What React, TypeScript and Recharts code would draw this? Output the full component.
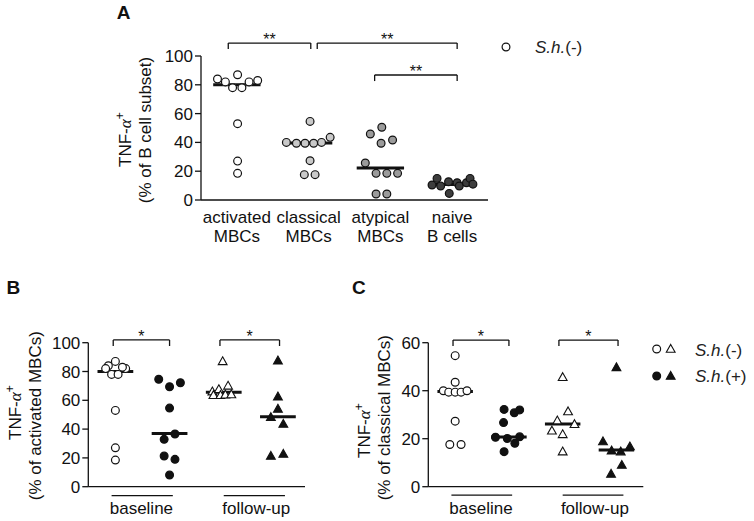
import { Legend, ReferenceLine, Scatter, ScatterChart, XAxis, YAxis } from "recharts";

const FONT = "'Liberation Sans', Arial, Helvetica, sans-serif";
const INK = "#111";

// ---- panel A: TNF-a+ per B cell subset (S.h.(-) donors)
const subsetLabels = [["activated", "MBCs"], ["classical", "MBCs"], ["atypical", "MBCs"], ["naive", "B cells"]];
const subsetFills = ["#ffffff", "#c9c9c9", "#9b9b9b", "#3d3d3d"];
const activatedVals = [84, 82, 78, 87, 78, 82, 83, 53, 27, 18.5];
const activatedJitterA = [-0.27, -0.16, -0.06, 0.01, 0.07, 0.17, 0.29, 0.01, 0.01, 0.01];
const classicalVals = [54.6, 40, 39.4, 39.4, 39.4, 40, 43.5, 27.3, 17.6, 17.6];
const classicalJitterA = [0.02, -0.31, -0.17, -0.05, 0.07, 0.18, 0.3, 0.02, -0.06, 0.09];
const atypicalVals = [50.5, 45.8, 39.4, 41.7, 25.7, 18.5, 18.5, 18.5, 4.2, 4.2];
const atypicalJitterA = [0.02, -0.14, 0.01, 0.17, -0.21, -0.06, 0.09, 0.24, -0.06, 0.09];
const naiveVals = [10.4, 15, 9.7, 12.7, 4.6, 12, 9.7, 12, 15, 11];
const naiveJitterA = [-0.28, -0.21, -0.16, -0.05, -0.04, 0.07, 0.1, 0.2, 0.25, 0.29];
const subsetMedians = [80, 39.5, 22.3, 10.8];
const bracketsA = [
  { from: -0.12, to: 1.03, top: 109, foot: 104.9, mark: "**" },
  { from: 1.12, to: 3.07, top: 109, foot: 104.9, mark: "**" },
  { from: 1.92, to: 3.07, top: 86.8, foot: 82.6, mark: "**" },
];

// ---- panels B/C: baseline vs follow-up, S.h.(-) / S.h.(+)
const groupLabels = ["baseline", "follow-up"];
const groupTicks = [0.48, 2.6];

const activatedJitterB = [-0.13, -0.18, -0.07, 0, 0.05, 0.19, 0.13, 0, 0, 0];
const actBasePosVals = [74.6, 69.4, 72.2, 54.6, 36.6, 32.9, 21.3, 19, 8.1];
const actBasePosJitter = [-0.2, 0, 0.2, 0, 0.1, -0.1, -0.1, 0.1, 0];
const actFollowNegVals = [87, 66, 67.6, 70, 63.5, 63.5, 63.8, 64];
const actFollowNegJitter = [-0.02, -0.21, -0.09, 0.08, -0.19, -0.06, 0.03, 0.14];
const actFollowPosVals = [87.5, 62.5, 54, 48.2, 43.5, 21.3, 22.7];
const actFollowPosJitter = [0, 0, 0, -0.13, 0.1, -0.13, 0.1];
const activatedMedians = [80, 37, 65.6, 48.6];
const bracketsB = [
  { from: -0.04, to: 1.0, top: 101.9, foot: 97.7, mark: "*" },
  { from: 1.93, to: 3.03, top: 101.9, foot: 97.7, mark: "*" },
];

const classicalJitterC = [0, -0.22, -0.12, 0, 0.11, 0.22, 0, 0, -0.1, 0.11];
const clsBasePosVals = [32.2, 30.8, 32, 26.7, 20.6, 20.1, 18.1, 20.8, 14.6];
const clsBasePosJitter = [-0.09, 0.1, 0.2, -0.1, -0.25, -0.03, 0.11, 0.2, -0.09];
const clsFollowNegVals = [45.6, 31.3, 27.5, 26, 23.3, 21.8, 14.6];
const clsFollowNegJitter = [0, 0.1, -0.1, 0.22, -0.2, 0, 0];
const clsFollowPosVals = [49.7, 18.8, 15, 14.6, 16.7, 9, 5.3];
const clsFollowPosJitter = [0, -0.25, -0.09, 0.08, 0.25, 0.1, -0.1];
const classicalMedians = [39.7, 20.7, 26.1, 15.3];
const bracketsC = [
  { from: -0.04, to: 1.0, top: 61.1, foot: 58.6, mark: "*" },
  { from: 1.93, to: 3.03, top: 61.1, foot: 58.6, mark: "*" },
];

const pts = (cat: number, jitter: number[], vals: number[]) =>
  vals.map((v, i) => ({ x: cat + jitter[i], y: v }));

const dot = (fill: string) => (p: any) => (
  <circle cx={p.cx} cy={p.cy} r={3.9} fill={fill} stroke={INK} strokeWidth={1.2} />
);
const tri = (fill: string) => (p: any) => (
  <path
    d={`M${p.cx},${p.cy - 4.6} L${p.cx + 4.4},${p.cy + 3.2} L${p.cx - 4.4},${p.cy + 3.2} Z`}
    fill={fill}
    stroke={INK}
    strokeWidth={1.1}
  />
);

const lineProps = { stroke: INK, strokeWidth: 1.3, ifOverflow: "visible" as const };

// significance mark sitting on the bracket bar
const starLabel = (mark: string) => (props: any) => {
  const vb = props.viewBox || {};
  const x = vb.x != null ? vb.x + (vb.width || 0) / 2 : (vb.x1 + vb.x2) / 2;
  const y = vb.y != null ? vb.y : vb.y1;
  return (
    <text x={x} y={y + 2} textAnchor="middle" fontFamily={FONT} fontSize={16} fill={INK}>
      {mark}
    </text>
  );
};

const bracket = (b: { from: number; to: number; top: number; foot: number; mark: string }, i: number) => [
  <ReferenceLine
    key={`bh${i}`}
    segment={[{ x: b.from, y: b.top }, { x: b.to, y: b.top }]}
    {...lineProps}
    label={starLabel(b.mark)}
  />,
  <ReferenceLine key={`bl${i}`} segment={[{ x: b.from, y: b.top }, { x: b.from, y: b.foot }]} {...lineProps} />,
  <ReferenceLine key={`br${i}`} segment={[{ x: b.to, y: b.top }, { x: b.to, y: b.foot }]} {...lineProps} />,
];

const medianLine = (m: number, i: number) => (
  <ReferenceLine
    key={`m${i}`}
    segment={[{ x: i - 0.33, y: m }, { x: i + 0.33, y: m }]}
    stroke={INK}
    strokeWidth={3}
    ifOverflow="visible"
  />
);

// rotated two-line y label; dx = distance of baseline from axis line,
// start1 = where "TNF" begins (below plot centre), dy2 = centre shift of line 2
const yLabel = (line2: string, dx1: number, dx2: number, start1: number, dy2: number) => (props: any) => {
  const vb = props.viewBox;
  const ax = vb.x + vb.width;
  const cy = vb.y + vb.height / 2;
  const x1 = ax - dx1;
  const y1 = cy + start1;
  const x2 = ax - dx2;
  const y2 = cy + dy2;
  return (
    <g fontFamily={FONT} fontSize={17} fill={INK}>
      <text x={x1} y={y1} textAnchor="start" transform={`rotate(-90 ${x1} ${y1})`}>
        TNF-
        <tspan fontFamily="'Liberation Serif', serif" fontStyle="italic">α</tspan>
        <tspan dy={-7} fontSize={12}>+</tspan>
      </text>
      <text x={x2} y={y2} textAnchor="middle" transform={`rotate(-90 ${x2} ${y2})`}>
        {line2}
      </text>
    </g>
  );
};

const subsetTick = (p: any) => {
  const lines = subsetLabels[p.index] || ["", ""];
  return (
    <text x={p.x} y={p.y} textAnchor="middle" fontFamily={FONT} fontSize={17} fill={INK}>
      <tspan x={p.x} dy={22.7}>{lines[0]}</tspan>
      <tspan x={p.x} dy={19}>{lines[1]}</tspan>
    </text>
  );
};

const groupTick = (p: any) => (
  <text x={p.x} y={p.y + 27.5} textAnchor="middle" fontFamily={FONT} fontSize={17} fill={INK}>
    {groupLabels[p.index]}
  </text>
);

const legendText = (x: number, y: number, sign: string) => (
  <text x={x} y={y} fontFamily={FONT} fontSize={17} fill="#222">
    <tspan fontStyle="italic">S.h.</tspan>
    <tspan>({sign})</tspan>
  </text>
);

const legendA = () => (
  <svg width={100} height={26}>
    <circle cx={11} cy={12} r={3.9} fill="#fff" stroke={INK} strokeWidth={1.2} />
    {legendText(40, 17.6, "-")}
  </svg>
);

const legendC = () => (
  <svg width={114} height={56}>
    <circle cx={16.7} cy={14} r={3.9} fill="#fff" stroke={INK} strokeWidth={1.2} />
    <path d="M30.7,9.4 L35.1,17.2 L26.3,17.2 Z" fill="#fff" stroke={INK} strokeWidth={1.1} />
    <circle cx={16.7} cy={41} r={3.9} fill={INK} stroke={INK} strokeWidth={1.2} />
    <path d="M30.7,36.4 L35.1,44.2 L26.3,44.2 Z" fill={INK} stroke={INK} strokeWidth={1.1} />
    {legendText(55, 20.5, "-")}
    {legendText(55, 47, "+")}
  </svg>
);

const axisStyle = { stroke: INK, strokeWidth: 1.3 };
const tickStyle = { fontSize: 17, fill: INK, fontFamily: FONT };

export default function App() {
  const subsetSeries = [
    pts(0, activatedJitterA, activatedVals),
    pts(1, classicalJitterA, classicalVals),
    pts(2, atypicalJitterA, atypicalVals),
    pts(3, naiveJitterA, naiveVals),
  ];

  return (
    <div style={{ position: "absolute", left: 0, top: 0, width: 754, height: 521, background: "#fff" }}>
      {/* A */}
      <div style={{ position: "absolute", left: 0, top: 0 }}>
        <ScatterChart width={754} height={260} margin={{ top: 56, right: 266, bottom: 30, left: 141 }}>
          <XAxis
            type="number"
            dataKey="x"
            domain={[-0.5, 3.5]}
            ticks={[0, 1, 2, 3]}
            interval={0}
            tick={subsetTick}
            tickLine={false}
            tickSize={0}
            tickMargin={0}
            axisLine={axisStyle}
            height={30}
          />
          <YAxis
            type="number"
            dataKey="y"
            domain={[0, 100]}
            ticks={[0, 20, 40, 60, 80, 100]}
            interval={0}
            width={60}
            tick={tickStyle}
            tickSize={6}
            tickMargin={2}
            tickLine={axisStyle}
            axisLine={axisStyle}
            label={yLabel("(% of B cell subset)", 70, 50, 39, 2)}
          />
          {subsetSeries.map((d, i) => (
            <Scatter key={i} data={d} shape={dot(subsetFills[i])} isAnimationActive={false} />
          ))}
          {subsetMedians.map(medianLine)}
          {bracketsA.flatMap(bracket)}
          <Legend
            layout="vertical"
            align="center"
            verticalAlign="middle"
            content={legendA}
            wrapperStyle={{ left: 495, top: 35, width: 100 }}
          />
        </ScatterChart>
      </div>

      {/* B */}
      <div style={{ position: "absolute", left: 0, top: 260 }}>
        <ScatterChart width={350} height={261} margin={{ top: 82.7, right: 45, bottom: 4.3, left: 28.3 }}>
          <XAxis
            type="number"
            dataKey="x"
            domain={[-0.5, 3.5]}
            ticks={groupTicks}
            interval={0}
            tick={groupTick}
            tickLine={false}
            tickSize={0}
            tickMargin={0}
            axisLine={axisStyle}
            height={30}
          />
          <YAxis
            type="number"
            dataKey="y"
            domain={[0, 100]}
            ticks={[0, 20, 40, 60, 80, 100]}
            interval={0}
            width={60}
            tick={tickStyle}
            tickSize={6}
            tickMargin={2}
            tickLine={axisStyle}
            axisLine={axisStyle}
            label={yLabel("(% of activated MBCs)", 67.3, 47.3, 25.3, 1)}
          />
          <Scatter data={pts(0, activatedJitterB, activatedVals)} shape={dot("#fff")} isAnimationActive={false} />
          <Scatter data={pts(1, actBasePosJitter, actBasePosVals)} shape={dot(INK)} isAnimationActive={false} />
          <Scatter data={pts(2, actFollowNegJitter, actFollowNegVals)} shape={tri("#fff")} isAnimationActive={false} />
          <Scatter data={pts(3, actFollowPosJitter, actFollowPosVals)} shape={tri(INK)} isAnimationActive={false} />
          {activatedMedians.map(medianLine)}
          {bracketsB.flatMap(bracket)}
          <ReferenceLine segment={[{ x: -0.07, y: -6.25 }, { x: 1.06, y: -6.25 }]} {...lineProps} />
          <ReferenceLine segment={[{ x: 2.0, y: -6.25 }, { x: 3.13, y: -6.25 }]} {...lineProps} />
        </ScatterChart>
      </div>

      {/* C */}
      <div style={{ position: "absolute", left: 350, top: 260 }}>
        <ScatterChart width={404} height={261} margin={{ top: 82.7, right: 110.7, bottom: 4.3, left: 18.3 }}>
          <XAxis
            type="number"
            dataKey="x"
            domain={[-0.5, 3.5]}
            ticks={groupTicks}
            interval={0}
            tick={groupTick}
            tickLine={false}
            tickSize={0}
            tickMargin={0}
            axisLine={axisStyle}
            height={30}
          />
          <YAxis
            type="number"
            dataKey="y"
            domain={[0, 60]}
            ticks={[0, 20, 40, 60]}
            interval={0}
            width={60}
            tick={tickStyle}
            tickSize={6}
            tickMargin={2}
            tickLine={axisStyle}
            axisLine={axisStyle}
            label={yLabel("(% of classical MBCs)", 58.8, 38.3, 43.3, 3)}
          />
          <Scatter data={pts(0, classicalJitterC, classicalVals)} shape={dot("#fff")} isAnimationActive={false} />
          <Scatter data={pts(1, clsBasePosJitter, clsBasePosVals)} shape={dot(INK)} isAnimationActive={false} />
          <Scatter data={pts(2, clsFollowNegJitter, clsFollowNegVals)} shape={tri("#fff")} isAnimationActive={false} />
          <Scatter data={pts(3, clsFollowPosJitter, clsFollowPosVals)} shape={tri(INK)} isAnimationActive={false} />
          {classicalMedians.map(medianLine)}
          {bracketsC.flatMap(bracket)}
          <ReferenceLine segment={[{ x: -0.07, y: -3.5 }, { x: 1.06, y: -3.5 }]} {...lineProps} />
          <ReferenceLine segment={[{ x: 2.0, y: -3.5 }, { x: 3.13, y: -3.5 }]} {...lineProps} />
          <Legend
            layout="vertical"
            align="center"
            verticalAlign="middle"
            content={legendC}
            wrapperStyle={{ left: 290, top: 75, width: 114 }}
          />
        </ScatterChart>
      </div>

      {/* panel letters */}
      <svg
        width={754}
        height={521}
        style={{ position: "absolute", left: 0, top: 0, pointerEvents: "none" }}
        fontFamily={FONT}
        fontWeight="bold"
        fontSize={19}
        fill={INK}
      >
        <text x={123.7} y={19.3} textAnchor="middle">A</text>
        <text x={6.5} y={294}>B</text>
        <text x={352} y={294}>C</text>
      </svg>
    </div>
  );
}
